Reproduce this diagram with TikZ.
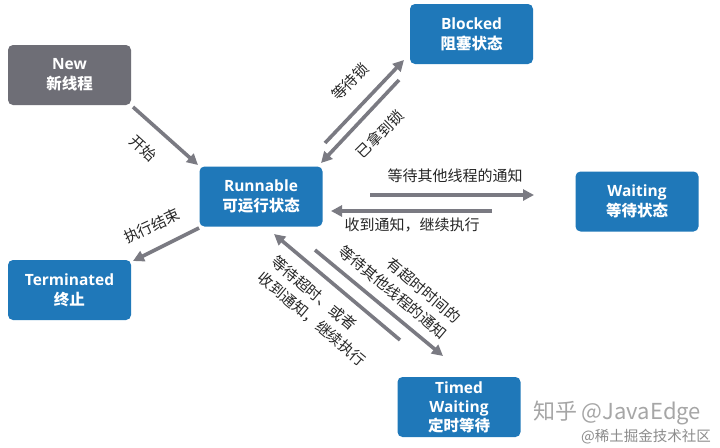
\documentclass[tikz,border=0pt]{standalone}
\usepackage{fontspec}
\setmainfont{Noto Sans CJK SC}
\newfontfamily\lat{Open Sans}
\usetikzlibrary{arrows.meta}
\definecolor{boxblue}{RGB}{31,120,185}
\definecolor{boxgray}{RGB}{110,110,118}
\definecolor{arrgray}{RGB}{122,122,130}
\begin{document}
\begin{tikzpicture}[x=1pt,y=-1pt,
  state/.style={rounded corners=5pt, fill=boxblue, text=white,
    font=\fontsize{15.5}{20}\selectfont\bfseries, align=center,
    minimum width=123pt, minimum height=60pt, inner sep=0pt},
  conn/.style={draw=arrgray, line width=3.6pt, -{Triangle[length=11pt,width=11pt]}},
  lbl/.style={font=\fontsize{15}{21}\selectfont, text=black!85, inner sep=0pt}
]
\useasboundingbox[fill=white] (0,0) rectangle (720,447);

% states
\node[state, fill=boxgray] (new) at (69.5,75) {{\lat New}\\新线程};
\node[state] (run) at (261,196.5) {{\lat Runnable}\\可运行状态};
\node[state] (blk) at (471.5,34) {{\lat Blocked}\\阻塞状态};
\node[state] (wait) at (637,201.5) {{\lat Waiting}\\等待状态};
\node[state] (term) at (69.5,290) {{\lat Terminated}\\终止};
\node[state, font=\fontsize{15.5}{19}\selectfont\bfseries] (timed) at (459,407) {{\lat Timed}\\{\lat Waiting}\\定时等待};

% connector ends
\coordinate (a1) at (133,107); \coordinate (a2) at (198,165);
\coordinate (b1) at (199,228); \coordinate (b2) at (133,261);
\coordinate (c1) at (325,143); \coordinate (c2) at (404,60);
\coordinate (d1) at (399,80);  \coordinate (d2) at (321,163);
\coordinate (e1) at (370,195); \coordinate (e2) at (534,195);
\coordinate (f1) at (492,211); \coordinate (f2) at (331,211);
\coordinate (g1) at (315,250); \coordinate (g2) at (443,356);
\coordinate (h1) at (400,340); \coordinate (h2) at (274,234);

\draw[conn] (a1) -- (a2);
\draw[conn] (b1) -- (b2);
\draw[conn] (c1) -- (c2);
\draw[conn] (d1) -- (d2);
\draw[conn] (e1) -- (e2);
\draw[conn] (f1) -- (f2);
\draw[conn] (g1) -- (g2);
\draw[conn] (h1) -- (h2);

% labels
\node[lbl, rotate=-42] (l1) at (143,148) {开始};
\node[lbl, rotate=25] (l2) at (152,226) {执行结束};
\node[lbl, rotate=45] (l3) at (350,82) {等待锁};
\node[lbl, rotate=45] (l4) at (380,134) {已拿到锁};
\node[lbl] (l5) at (455,176) {等待其他线程的通知};
\node[lbl] (l6) at (412,225) {收到通知，继续执行};
\node[lbl, rotate=-40, align=right] (l7) at (400,284) {有超时时间的\\等待其他线程的通知};
\node[lbl, rotate=-40, align=left] (l8) at (319,311) {等待超时、或者\\收到通知，继续执行};

% watermarks
\node[font=\fontsize{22}{24}\selectfont, text=black!35, inner sep=0pt] (wm1) at (617,413) {知乎 @JavaEdge};
\node[font=\fontsize{14.5}{16}\selectfont, text=black!45, inner sep=0pt] (wm2) at (646,437) {@稀土掘金技术社区};
\end{tikzpicture}
\end{document}
